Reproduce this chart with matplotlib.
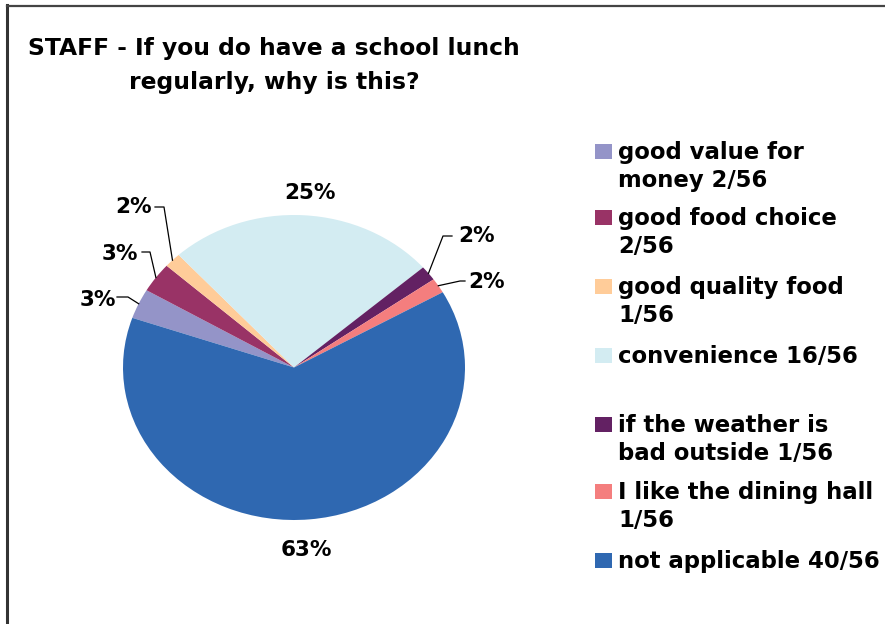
import matplotlib
matplotlib.use("Agg")
import matplotlib.pyplot as plt
import numpy as np
from matplotlib.patches import Rectangle
from matplotlib.lines import Line2D

categories = ["good value for\nmoney 2/56", "good food choice\n2/56", "good quality food\n1/56",
              "convenience 16/56", "if the weather is\nbad outside 1/56", "I like the dining hall\n1/56",
              "not applicable 40/56"]
values = [2, 2, 1, 16, 1, 1, 40]
pct_labels = ["3%", "3%", "2%", "25%", "2%", "2%", "63%"]
colors = ["#9494C8", "#993366", "#FFCC99", "#D3ECF2", "#632163", "#F47E7E", "#2F68B1"]

W, H = 885, 624
fig = plt.figure(figsize=(W / 100, H / 100), dpi=100)
plt.rcParams['font.family'] = ['DejaVu Sans']

def fx(x):
    return x / W
def fy(y):
    return 1 - y / H

# border
fig.add_artist(Line2D([fx(7), fx(7)], [fy(5), 0], color="#333333", lw=2.2, transform=fig.transFigure))
fig.add_artist(Line2D([fx(7), 1], [fy(5.5), fy(5.5)], color="#444444", lw=1.6, transform=fig.transFigure))

# title
fig.text(fx(274), fy(48), "STAFF - If you do have a school lunch", ha="center", va="center",
         fontsize=16.8, fontweight="bold")
fig.text(fx(274), fy(83), "regularly, why is this?", ha="center", va="center",
         fontsize=16.8, fontweight="bold")

# pie axes (elliptical)
cx, cy, rx, ry = 294, 367.5, 171, 152.5
ax = fig.add_axes([fx(cx - rx), fy(cy + ry), 2 * rx / W, 2 * ry / H])
wedges, _ = ax.pie(values, colors=colors, startangle=161, counterclock=False,
                   radius=1, wedgeprops=dict(linewidth=0))
ax.set_xlim(-1, 1)
ax.set_ylim(-1, 1)
ax.set_aspect("auto")
ax.axis("off")

def to_data(px, py):
    return (px - cx) / rx, (cy - py) / ry

total = sum(values)
mids = []
a = 161.0
for v in values:
    span = v / total * 360
    mids.append(np.deg2rad(a - span / 2))
    a -= span

label_pos = [(98, 300), (120, 254), (134, 207), (310, 193), (476, 236), (486, 282), (306, 550)]
elbows = [((128, 297), (117, 297)), ((150, 252), (142, 252)), ((164, 207), (155, 207)),
          None, ((443, 236), (452, 236)), ((460, 281), (465, 281)), None]

for i, (lab, pos) in enumerate(zip(pct_labels, label_pos)):
    ax.text(*to_data(*pos), lab, ha="center", va="center", fontsize=15.5, fontweight="bold",
            clip_on=False)
    if elbows[i] is not None:
        sx, sy = np.cos(mids[i]), np.sin(mids[i])
        e1 = to_data(*elbows[i][0])
        e2 = to_data(*elbows[i][1])
        ax.plot([sx, e1[0], e2[0]], [sy, e1[1], e2[1]], color="black", lw=0.9, clip_on=False)

leg_y = [152, 218, 287, 356, 425, 492, 561]
for lab, col, y in zip(categories, colors, leg_y):
    fig.add_artist(Rectangle((fx(595), fy(y + 7)), 17 / W, 15 / H, facecolor=col, edgecolor="none",
                             transform=fig.transFigure))
    fig.text(fx(618), fy(y - 11), lab, ha="left", va="top", fontsize=16.4, fontweight="bold",
             linespacing=1.3)

fig.savefig("out.png", dpi=100)
